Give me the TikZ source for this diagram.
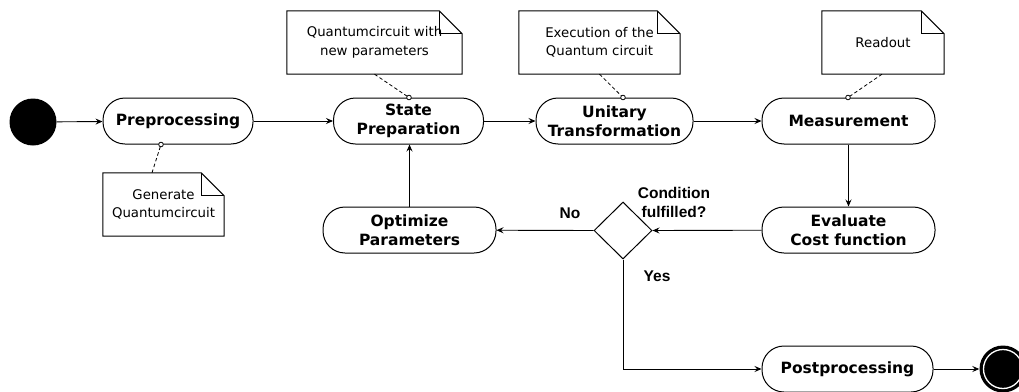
\documentclass[tikz,border=0pt]{standalone}
\usepackage{fontspec}
\setmainfont{DejaVu Sans}
\newfontfamily\labelfont{Liberation Sans}
\usetikzlibrary{arrows.meta,shapes.geometric}

\tikzset{
  activity/.style={draw, line width=1pt, rounded corners=22pt, minimum height=46pt,
    align=center, inner sep=0pt, font=\fontsize{15.5}{19}\selectfont\bfseries},
  notebox/.style={draw=none, align=center, inner sep=0pt, minimum height=63pt,
    font=\fontsize{13.3}{18.5}\selectfont},
  flow/.style={line width=0.9pt, -{Stealth[length=7pt,width=6pt,inset=2.5pt]}},
  notelink/.style={line width=0.8pt, dash pattern=on 3.5pt off 2.5pt},
  guard/.style={font=\fontsize{15.5}{19}\selectfont\labelfont\bfseries, align=center, inner sep=0pt},
}

% note outline with a folded top-right corner
\newcommand{\noteshape}[1]{%
  \draw[line width=1pt] (#1.north west) -- ([xshift=-23pt]#1.north east)
    -- ([yshift=-23pt]#1.north east) -- (#1.south east) -- (#1.south west) -- cycle;
  \draw[line width=1pt] ([xshift=-23pt]#1.north east) -- ([xshift=-23pt,yshift=-23pt]#1.north east)
    -- ([yshift=-23pt]#1.north east);
}

\begin{document}
\begin{tikzpicture}[x=1pt,y=1pt]
\useasboundingbox (0,0) rectangle (1019,-391);

% initial and final states
\node[circle, fill=black, minimum size=47pt, inner sep=0pt] (start) at (33,-122) {};
\node[circle, fill=black, minimum size=47pt, inner sep=0pt] (stop) at (1003,-369) {};
\draw[white, line width=1.3pt] (stop.center) circle (19.5pt);

% activities
\node[activity, minimum width=150pt] (pre) at (178,-121) {Preprocessing};
\node[activity, minimum width=150pt] (state) at (408.5,-121) {State\\Preparation};
\node[activity, minimum width=157pt] (unit) at (614.5,-121) {Unitary\\Transformation};
\node[activity, minimum width=173pt] (meas) at (848.5,-121) {Measurement};
\node[activity, minimum width=173pt] (eval) at (848.5,-230) {Evaluate\\Cost function};
\node[activity, minimum width=173pt] (opt) at (409.5,-230) {Optimize\\Parameters};
\node[activity, minimum width=171pt] (post) at (847.5,-369) {Postprocessing};

% decision
\node[diamond, draw, line width=1pt, minimum width=58pt, minimum height=57pt, inner sep=0pt] (dec) at (623,-230.5) {};

% notes
\node[notebox, minimum width=121pt] (n1) at (163.5,-204.5) {Generate\\Quantumcircuit};
\node[notebox, minimum width=175pt] (n2) at (374.5,-42.5) {Quantumcircuit with\\new parameters};
\node[notebox, minimum width=161pt] (n3) at (599.5,-42.5) {Execution of the\\Quantum circuit};
\node[notebox, minimum width=122pt] (n4) at (883,-42.5) {Readout};
\noteshape{n1}
\noteshape{n2}
\noteshape{n3}
\noteshape{n4}

% note attachment points
\coordinate (a1) at ([xshift=-17pt]pre.south);
\coordinate (a2) at ([xshift=0.5pt]state.north);
\coordinate (a3) at ([xshift=8.5pt]unit.north);
\coordinate (a4) at ([xshift=-0.5pt]meas.north);
\draw[notelink] ([xshift=-11.5pt]n1.north) -- (a1);
\draw[notelink] (n2.south) -- (a2);
\draw[notelink] (n3.south) -- (a3);
\draw[notelink] ([xshift=-1pt]n4.south) -- (a4);
\foreach \c in {a1,a2,a3,a4}
  \draw[line width=0.8pt, fill=white] (\c) circle (2.3pt);

% control flow
\draw[flow] (start) -- (pre);
\draw[flow] (pre) -- (state);
\draw[flow] (state) -- (unit);
\draw[flow] (unit) -- (meas);
\draw[flow] (meas) -- (eval);
\draw[flow] (eval) -- (dec.east);
\draw[flow] (dec.west) -- (opt);
\draw[flow] (opt.north) -- (opt.north |- state.south);
\draw[flow] (dec.south) |- (post.west);
\draw[flow] (post) -- (stop);

% guards
\node[guard] (cond) at (674,-202.5) {Condition\\fulfilled?};
\node[guard] (no) at (570,-213) {No};
\node[guard] (yes) at (657,-276) {Yes};
\end{tikzpicture}
\end{document}
